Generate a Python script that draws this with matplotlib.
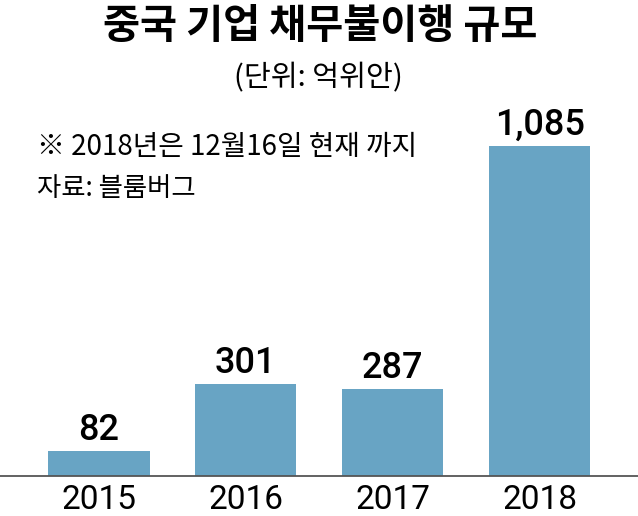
import matplotlib
matplotlib.use("Agg")
import matplotlib.pyplot as plt

# data
years = ["2015", "2016", "2017", "2018"]
values = [82, 301, 287, 1085]
value_labels = ["82", "301", "287", "1,085"]

title = "중국 기업 채무불이행 규모"
unit = "(단위: 억위안)"
note = "※ 2018년은 12월16일 현재 까지"
source = "자료: 블룸버그"

W, H = 638, 516
bar_color = "#68a4c4"
kr = ["Noto Sans CJK KR", "DejaVu Sans"]
num = ["Roboto", "Liberation Sans", "DejaVu Sans"]

fig = plt.figure(figsize=(W / 100, H / 100), dpi=100)
fig.patch.set_facecolor("white")

# axes: baseline at y=476px, spans full width
ax = fig.add_axes([0, (H - 476) / H, 1, 476 / H])
x = list(range(len(years)))
ax.bar(x, values, width=0.69, color=bar_color, zorder=2)
ax.set_xlim(-0.673, 3.67)
ax.set_ylim(0, 1565)

for s in ["top", "left", "right"]:
    ax.spines[s].set_visible(False)
ax.spines["bottom"].set_color("#555555")
ax.spines["bottom"].set_linewidth(1.3)
ax.set_yticks([])
ax.set_xticks(x)
ax.set_xticklabels(years, family=num, fontsize=24)
ax.tick_params(axis="x", length=0, pad=6)

for xi, v, lab in zip(x, values, value_labels):
    ax.annotate(lab, (xi, v), xytext=(0, 8), textcoords="offset points",
                ha="center", va="baseline", family=num, fontsize=26,
                fontweight="medium")

# header texts
fig.text(320 / W, 1 - 27 / H, title, ha="center", va="center",
         family=kr, fontsize=29, fontweight="bold")
fig.text(318 / W, 1 - 78 / H, unit, ha="center", va="center",
         family=kr, fontsize=21)
fig.text(37 / W, 1 - 147 / H, note, ha="left", va="center",
         family=kr, fontsize=20)
fig.text(37 / W, 1 - 189 / H, source, ha="left", va="center",
         family=kr, fontsize=19)

fig.savefig("out.png", dpi=100, facecolor="white")
